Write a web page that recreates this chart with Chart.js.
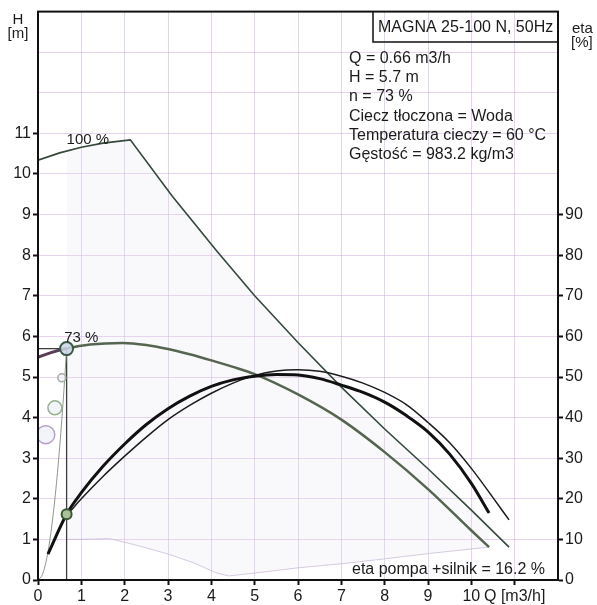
<!DOCTYPE html>
<html>
<head>
<meta charset="utf-8">
<script src="https://cdn.jsdelivr.net/npm/chart.js@4.4.0/dist/chart.umd.min.js"></script>
<style>
  html, body { margin: 0; padding: 0; background: #fff; }
  canvas { display: block; }
</style>
</head>
<body>
<canvas id="pumpChart" width="597" height="605"></canvas>
<script>
// pump curve at 100 % speed (H in m)
const q100 = [0, 0.5, 1.0, 1.5, 2.13, 3.1, 4.13, 5.0, 6.0, 7.0, 8.0, 9.0, 10.0, 10.87];
const h100 = [10.34, 10.52, 10.66, 10.76, 10.84, 9.45, 8.1, 7.0, 5.85, 4.75, 3.72, 2.74, 1.72, 0.81];

// pump curve at 73 % speed
const q73 = [0, 0.3, 0.66, 1.2, 1.95, 2.5, 3.0, 3.5, 4.0, 4.5, 5.0, 6.0, 7.0, 8.0, 9.0, 10.0, 10.41];
const h73 = [5.49, 5.6, 5.7, 5.8, 5.84, 5.79, 5.69, 5.56, 5.41, 5.25, 5.07, 4.57, 3.95, 3.15, 2.24, 1.22, 0.81];

// efficiency at 73 % (thick) and 100 % (thin), eta in %
const qEta73 = [0.23, 0.66, 1.0, 1.5, 2.0, 2.5, 3.0, 3.5, 4.0, 4.5, 5.0, 5.5, 6.0, 6.5, 7.0, 7.5, 8.0, 8.5, 9.0, 9.5, 10.0, 10.41];
const eta73 = [6.4, 16.2, 21.5, 28, 33.5, 38.3, 42.2, 45.3, 47.7, 49.3, 50.2, 50.6, 50.5, 49.6, 48.0, 46.2, 43.8, 40.5, 36.5, 31.0, 23.8, 16.5];
const qEta100 = [0.75, 1.0, 1.5, 2.0, 2.5, 3.0, 3.5, 4.0, 4.5, 5.0, 5.5, 6.0, 6.5, 7.0, 7.5, 8.0, 8.5, 9.0, 9.5, 10.0, 10.5, 10.87];
const eta100 = [17.0, 20.0, 25.5, 30.5, 35.2, 39.5, 43.0, 46.0, 48.5, 50.4, 51.5, 51.8, 51.4, 50.2, 48.5, 46.2, 43.2, 38.8, 33.8, 27.5, 20.3, 14.8];

// lower edge of the operating range
const qMin = [0.66, 1.0, 1.65, 2.3, 3.0, 3.6, 4.1, 4.4, 5.0, 6.0, 7.0, 8.0, 9.0, 10.41];
const hMin = [1.0, 1.0, 1.02, 0.85, 0.64, 0.42, 0.18, 0.1, 0.17, 0.3, 0.4, 0.52, 0.65, 0.81];

// system curve up to the duty point
const qSys = [0, 0.1, 0.2, 0.3, 0.4, 0.5, 0.6, 0.66];
const hSys = [0, 0.13, 0.52, 1.18, 2.1, 3.27, 4.7, 5.7];

// duty point
const qDuty = 0.66;
const hDuty = 5.7;
const etaDuty = 16.2;

// faint rings left by the print
const qRings = [0.55, 0.39, 0.18];
const hRings = [4.98, 4.24, 3.58];

// axis labels
const qLabelMax = 10;
const hLabelMax = 11;
const etaLabelMax = 90;

const infoTitle = "MAGNA 25-100 N, 50Hz";
const infoLines = [
  "Q = 0.66 m3/h",
  "H = 5.7 m",
  "n = 73 %",
  "Ciecz tłoczona = Woda",
  "Temperatura cieczy = 60 °C",
  "Gęstość = 983.2 kg/m3",
];
const footText = "eta pompa +silnik = 16.2 %";

const pts = (xs, ys) => xs.map((x, i) => ({ x: x, y: ys[i] }));
const FONT = '"Liberation Sans", Arial, sans-serif';
const INK = "#1b1b1b";

const overlay = {
  id: "overlay",
  afterDraw(chart) {
    const { ctx, chartArea: a, scales } = chart;
    ctx.save();
    ctx.strokeStyle = "#111";
    ctx.lineWidth = 2;
    ctx.strokeRect(a.left, a.top, a.right - a.left, a.bottom - a.top);

    // title box
    ctx.lineWidth = 1.5;
    ctx.beginPath();
    ctx.moveTo(373, a.top);
    ctx.lineTo(373, 42);
    ctx.lineTo(a.right, 42);
    ctx.stroke();

    ctx.fillStyle = INK;
    ctx.font = "16px " + FONT;
    ctx.textAlign = "left";
    ctx.textBaseline = "alphabetic";
    ctx.fillText(infoTitle, 378, 32);
    infoLines.forEach((t, i) => ctx.fillText(t, 349, 63 + i * 19.2));
    ctx.fillText(footText, 352, 574);

    // speed labels on the curves
    ctx.font = "15px " + FONT;
    ctx.textAlign = "center";
    ctx.fillText("100 %", scales.x.getPixelForValue(1.15), scales.y.getPixelForValue(10.75));
    ctx.fillText("73 %", scales.x.getPixelForValue(1.0), scales.y.getPixelForValue(5.85));

    // axis titles
    ctx.fillText("H", 18, 24);
    ctx.fillText("[m]", 18, 38);
    ctx.textAlign = "left";
    ctx.fillText("eta", 572, 33);
    ctx.fillText("[%]", 571, 47);
    ctx.restore();
  },
};

const lineBase = { pointRadius: 0, fill: false, tension: 0 };

new Chart(document.getElementById("pumpChart"), {
  type: "line",
  data: {
    datasets: [
      {
        // duty point on H
        type: "scatter",
        data: [{ x: qDuty, y: hDuty }],
        pointRadius: 6.5,
        pointBackgroundColor: "rgba(205,215,230,0.85)",
        pointBorderColor: "#3d5a4a",
        pointBorderWidth: 2,
        order: 0,
      },
      {
        // duty point on eta
        type: "scatter",
        yAxisID: "y2",
        data: [{ x: qDuty, y: etaDuty }],
        pointRadius: 5,
        pointBackgroundColor: "#a9c09a",
        pointBorderColor: "#3b5634",
        pointBorderWidth: 2,
        order: 0,
      },
      {
        type: "scatter",
        data: pts(qRings, hRings),
        pointRadius: [4, 7, 9],
        pointBackgroundColor: "rgba(238,240,246,0.7)",
        pointBorderColor: ["#a3ad9c", "#94b08e", "#b8a0c8"],
        pointBorderWidth: 1.5,
        order: 1,
      },
      {
        ...lineBase,
        yAxisID: "y2",
        data: pts(qEta73, eta73),
        borderColor: "#111",
        borderWidth: 3,
        cubicInterpolationMode: "monotone",
        order: 2,
      },
      {
        ...lineBase,
        yAxisID: "y2",
        data: pts(qEta100, eta100),
        borderColor: "#1c1c1c",
        borderWidth: 1.5,
        cubicInterpolationMode: "monotone",
        order: 2,
      },
      {
        ...lineBase,
        data: pts(q73, h73),
        borderColor: "#55654f",
        borderWidth: 2.5,
        cubicInterpolationMode: "monotone",
        segment: {
          borderColor: (c) => (c.p1.parsed.x <= qDuty ? "#5b3d58" : undefined),
          borderWidth: (c) => (c.p1.parsed.x <= qDuty ? 3 : undefined),
        },
        order: 3,
      },
      {
        ...lineBase,
        data: pts(q100, h100),
        borderColor: "#34493a",
        borderWidth: 1.6,
        order: 3,
      },
      {
        ...lineBase,
        data: pts(qSys, hSys),
        borderColor: "#8c9a8a",
        borderWidth: 1,
        cubicInterpolationMode: "monotone",
        order: 4,
      },
      {
        ...lineBase,
        data: [{ x: qDuty, y: 0 }, { x: qDuty, y: hDuty }],
        borderColor: "#3a3f3a",
        borderWidth: 1.3,
        order: 4,
      },
      {
        ...lineBase,
        data: [{ x: 0, y: hDuty }, { x: qDuty, y: hDuty }],
        borderColor: "#3a3f3a",
        borderWidth: 1.3,
        order: 4,
      },
      {
        ...lineBase,
        data: pts(qMin, hMin),
        borderColor: "rgba(200,185,215,0.75)",
        borderWidth: 1,
        fill: { target: 6 },
        backgroundColor: "rgba(225,218,235,0.2)",
        order: 9,
      },
    ],
  },
  options: {
    responsive: false,
    animation: false,
    layout: { padding: { top: 7, left: 0, right: 0, bottom: 0 } },
    plugins: { legend: { display: false }, tooltip: { enabled: false } },
    scales: {
      x: {
        type: "linear",
        min: 0,
        max: 12,
        afterFit: (s) => { s.height = 25; },
        ticks: {
          stepSize: 1,
          autoSkip: false,
          maxRotation: 0,
          padding: 2,
          color: INK,
          font: { family: FONT, size: 16 },
          callback: (v) => (v <= qLabelMax ? v : v === 11 ? "Q [m3/h]" : ""),
        },
        grid: {
          color: "rgba(205,170,220,0.5)",
          tickColor: (c) => (c.tick && c.tick.value <= 11 ? "#111" : "rgba(0,0,0,0)"),
          tickLength: 5,
          tickWidth: 2,
        },
        border: { color: "#111", width: 2 },
      },
      y: {
        min: 0,
        max: 14,
        afterFit: (s) => { s.width = 38; },
        ticks: {
          stepSize: 1,
          autoSkip: false,
          padding: 2,
          color: INK,
          font: { family: FONT, size: 16 },
          callback: (v) => (v <= hLabelMax ? v : ""),
        },
        grid: {
          color: "rgba(205,170,220,0.5)",
          tickColor: (c) => (c.tick && c.tick.value <= hLabelMax ? "#111" : "rgba(0,0,0,0)"),
          tickLength: 5,
          tickWidth: 2,
        },
        border: { color: "#111", width: 2 },
      },
      y2: {
        position: "right",
        min: 0,
        max: 140,
        afterFit: (s) => { s.width = 39; },
        ticks: {
          stepSize: 10,
          autoSkip: false,
          padding: 2,
          color: INK,
          font: { family: FONT, size: 16 },
          callback: (v) => (v <= etaLabelMax ? v : ""),
        },
        grid: {
          drawOnChartArea: false,
          tickColor: (c) => (c.tick && c.tick.value <= etaLabelMax ? "#111" : "rgba(0,0,0,0)"),
          tickLength: 5,
          tickWidth: 2,
        },
        border: { color: "#111", width: 2 },
      },
    },
  },
  plugins: [overlay],
});
</script>
</body>
</html>
